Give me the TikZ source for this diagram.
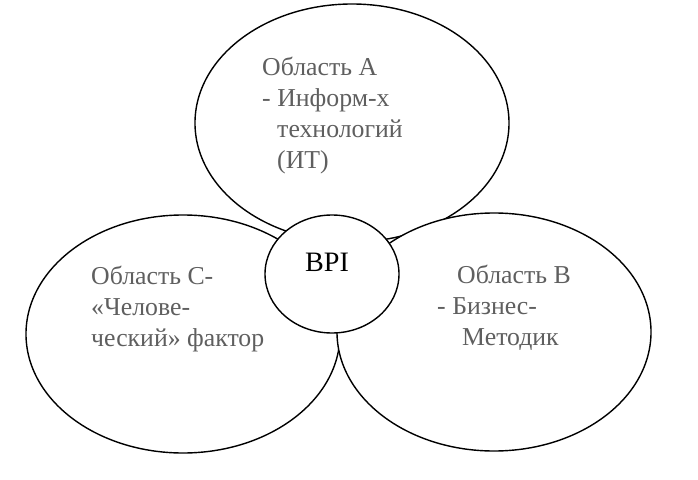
\documentclass[tikz,border=0pt]{standalone}
\usepackage{fontspec}
\setmainfont{Liberation Serif}
\usetikzlibrary{shapes.geometric}
\definecolor{labelgray}{RGB}{95,95,95}

\begin{document}
\begin{tikzpicture}[x=0.03cm, y=-0.03cm,
		area/.style={ellipse, draw, fill=white, line width=1.2pt, minimum width=9.42cm, minimum height=7.14cm, inner sep=0pt},
		arealabel/.style={anchor=north west, align=left, inner sep=0pt, text=labelgray, font=\fontsize{22}{26.5}\selectfont}]
	\useasboundingbox (0,0) rectangle (698,480);

	\begin{scope}
		\node [area] (areaA) at (352,123) {};
		\node [area] (areaC) at (183,334) {};
		\node [area] (areaB) at (494,332) {};
		\node [area, minimum width=4.02cm, minimum height=3.54cm] (bpi) at (332,274) {};
	\end{scope}

	\begin{scope}
		\node [font=\fontsize{24}{28}\selectfont] (bpilabel) at (327,262) {BPI};
		\node [arealabel] (labelA) at (262,57) {Область А\\- Информ-х\\\hspace*{0.45cm}технологий\\\hspace*{0.45cm}(ИТ)};
		\node [arealabel] (labelC) at (91,266) {Область С-\\«Челове-\\ческий» фактор};
		\node [arealabel] (labelB) at (437,265) {\hspace*{0.6cm}Область В\\- Бизнес-\\\hspace*{0.75cm}Методик};
	\end{scope}
\end{tikzpicture}
\end{document}
